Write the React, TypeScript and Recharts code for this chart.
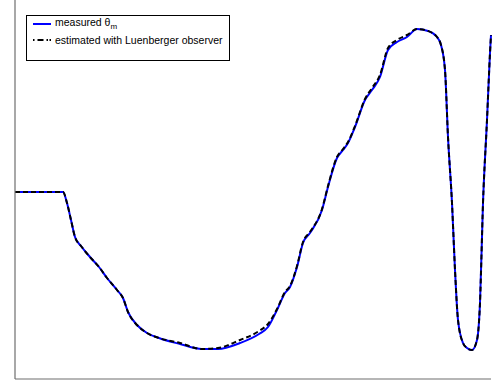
import { LineChart, Line, XAxis, YAxis } from "recharts";

// time axis (samples) and rotor angle, measured vs observer estimate
const t = [
  0, 48, 52, 56, 60, 66, 75, 84, 92, 102, 108, 113, 122, 132, 144, 165, 187, 203,
  225, 244, 253, 262, 270, 275, 282, 288, 295, 307, 313, 322, 328, 333, 340, 350,
  357, 365, 373, 382, 392, 402, 413, 422, 426, 430, 433, 437, 440, 443, 448, 452,
  457, 462, 465, 468, 472, 475, 476,
];

const measured = [
  187, 187, 176, 159, 142, 133, 122, 112, 101, 89, 81, 67, 54, 46, 41, 35, 30, 30,
  36, 45, 52, 69, 86, 92, 112, 136, 146, 169, 192, 221, 229, 236, 252, 279,
  289, 302, 329, 337, 342, 350, 348, 342, 334, 309, 242, 176, 109, 59, 36, 31,
  29, 39, 76, 176, 259, 326, 344,
];

const estimated = [
  187, 187, 176, 159, 142, 133, 122, 112, 101, 89, 81, 67, 54, 46, 41, 36, 30, 31,
  39, 48, 55, 70, 87, 93, 113, 137, 147, 170, 193, 222, 230, 237, 253, 280,
  291, 304, 331, 339, 344, 350, 348, 342, 334, 309, 242, 176, 109, 59, 36, 31,
  29, 39, 76, 176, 259, 326, 344,
];

const data = t.map((x, i) => ({ t: x, measured: measured[i], estimated: estimated[i] }));

const font = "'Liberation Sans', Arial, sans-serif";

function LegendBox() {
  return (
    <div
      style={{
        position: "absolute",
        left: 26,
        top: 15,
        width: 202,
        height: 44,
        border: "1px solid #000",
        background: "#fff",
        fontFamily: font,
        fontSize: 10.5,
        color: "#000",
      }}
    >
      <svg width={30} height={40} style={{ position: "absolute", left: 4, top: 0 }}>
        <line x1={2} y1={8} x2={20} y2={8} stroke="#0000ff" strokeWidth={2} />
        <line x1={2} y1={24} x2={20} y2={24} stroke="#000" strokeWidth={2} strokeDasharray="1.5 3 6 3 1.5" />
      </svg>
      <div style={{ position: "absolute", left: 28, top: 0, lineHeight: "12px" }}>
        measured θ<sub style={{ fontSize: 8, verticalAlign: -3 }}>m</sub>
      </div>
      <div style={{ position: "absolute", left: 28, top: 18, lineHeight: "12px" }}>
        estimated with Luenberger observer
      </div>
    </div>
  );
}

export default function App() {
  return (
    <div style={{ position: "absolute", left: 0, top: 0, width: 499, height: 380, background: "#fff" }}>
      <LineChart width={499} height={380} data={data} margin={{ top: 0, right: 8, left: 14, bottom: 0 }}>
        <XAxis
          dataKey="t"
          type="number"
          domain={[0, 476]}
          height={1}
          tick={false}
          tickLine={false}
          axisLine={{ stroke: "#6e6e6e", strokeWidth: 1.2 }}
        />
        <YAxis
          type="number"
          domain={[0, 379]}
          width={1}
          tick={false}
          tickLine={false}
          axisLine={{ stroke: "#6e6e6e", strokeWidth: 1.2 }}
        />
        <Line
          type="monotone"
          dataKey="measured"
          stroke="#0000ff"
          strokeWidth={2}
          dot={false}
          isAnimationActive={false}
        />
        <Line
          type="monotone"
          dataKey="estimated"
          stroke="#000"
          strokeWidth={2}
          strokeDasharray="5 3"
          dot={false}
          isAnimationActive={false}
        />
      </LineChart>
      <LegendBox />
    </div>
  );
}
